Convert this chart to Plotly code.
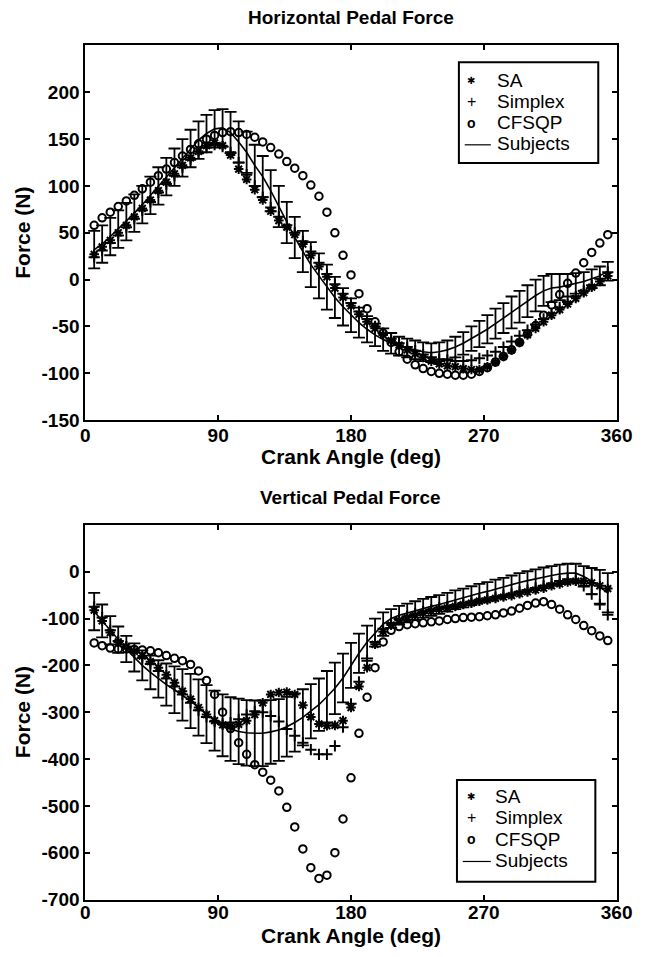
import plotly.graph_objects as go

# ---------------- data ----------------
angles = [6, 11.4, 16.9, 22.3, 27.8, 33.2, 38.6, 44.1, 49.5, 54.9, 60.4, 65.8, 71.3, 76.7, 82.1,
          87.6, 93, 98.4, 103.9, 109.3, 114.8, 120.2, 125.6, 131.1, 136.5, 141.9, 147.4, 152.8,
          158.3, 163.7, 169.1, 174.6, 180, 185.4, 190.9, 196.3, 201.8, 207.2, 212.6, 218.1, 223.5,
          228.9, 234.4, 239.8, 245.3, 250.7, 256.1, 261.6, 267, 272.4, 277.9, 283.3, 288.8, 294.2,
          299.6, 305.1, 310.5, 315.9, 321.4, 326.8, 332.3, 337.7, 343.1, 348.6, 354]

# Horizontal pedal force (N)
h_subjects = [32, 38, 46, 54, 62, 71, 80, 90, 100, 110, 120, 130, 140, 149, 156, 161, 162, 157, 147, 136,
              122, 110, 95, 78, 61, 45, 30, 16, 4, -8, -19, -29, -38, -46, -53, -59, -64, -68, -71, -73,
              -75, -77, -78, -77, -75, -72, -68, -63, -58, -53, -47, -41, -35, -29, -23, -17, -12, -9,
              -8, -6, -4, -2, 1, 4, 9]
h_sd = [20, 20, 20, 20, 20, 20, 20, 20, 20, 20, 20, 20, 20, 20, 20, 20, 20, 22, 22, 22, 22, 22, 22, 22,
        22, 22, 22, 24, 24, 24, 22, 20, 18, 16, 14, 12, 12, 11, 10, 10, 10, 10, 10, 10, 10, 11, 12, 13,
        14, 15, 16, 16, 17, 17, 17, 17, 16, 15, 14, 12, 11, 10, 10, 10, 10]
h_sa = [27, 35, 42, 50, 58, 67, 76, 85, 95, 104, 113, 122, 130, 137, 143, 146, 143, 133, 118, 107,
        96, 85, 73, 63, 56, 48, 38, 26, 14, 3, -9, -19, -28, -37, -45, -52, -59, -65, -70, -75,
        -79, -83, -87, -90, -92, -93, -95, -96, -96, -93, -88, -82, -75, -67, -59, -52, -45, -38,
        -32, -26, -20, -14, -8, -2, 4]
h_simplex = [24, 31, 39, 47, 56, 65, 74, 83, 93, 102, 111, 120, 128, 135, 141, 144, 142, 136, 125, 112,
             100, 88, 77, 67, 58, 50, 41, 30, 18, 6, -5, -15, -25, -34, -42, -50, -57, -63, -68, -72,
             -76, -80, -83, -85, -86, -87, -87, -86, -84, -81, -77, -72, -66, -60, -54, -48, -42, -36,
             -30, -24, -18, -12, -6, 1, 8]
h_cfsqp = [58, 66, 72, 78, 84, 90, 97, 104, 111, 118, 125, 132, 139, 145, 150, 154, 157, 158, 157, 155,
           152, 147, 141, 134, 126, 119, 111, 101, 89, 72, 50, 26, 5, -15, -31, -45, -57, -67, -77, -85,
           -91, -95, -98, -100, -101, -102, -102, -101, -98, -94, -88, -82, -75, -67, -58, -49, -38, -27,
           -16, -4, 7, 18, 29, 39, 48]

# Vertical pedal force (N)
v_subjects = [-85, -105, -125, -145, -165, -183, -200, -215, -229, -241, -252, -263, -276, -290, -304,
              -318, -328, -336, -341, -344, -345, -345, -342, -338, -331, -322, -311, -298, -284, -267,
              -249, -227, -200, -174, -150, -130, -112, -100, -93, -88, -83, -78, -74, -70, -65, -60,
              -56, -51, -46, -42, -37, -33, -28, -23, -19, -15, -11, -8, -5, -3, -3, -10, -20, -32, -45]
v_sd = [40, 35, 30, 28, 28, 30, 32, 36, 40, 45, 50, 55, 58, 60, 62, 64, 66, 68, 70, 70, 70, 70, 68, 66,
        64, 62, 60, 58, 56, 55, 55, 52, 48, 42, 35, 30, 25, 20, 20, 20, 20, 20, 20, 20, 20, 20, 20, 20,
        20, 20, 20, 20, 20, 20, 20, 20, 20, 20, 20, 20, 20, 22, 28, 36, 42]
v_sa = [-82, -105, -130, -150, -160, -170, -180, -192, -205, -220, -237, -255, -272, -290, -305, -318,
        -327, -330, -326, -318, -305, -280, -262, -258, -257, -262, -285, -310, -325, -329, -328, -318,
        -290, -245, -205, -155, -128, -114, -104, -98, -93, -88, -84, -80, -77, -74, -70, -67, -63, -60,
        -57, -54, -51, -47, -43, -39, -35, -30, -26, -22, -20, -20, -24, -30, -36]
v_simplex = [-75, -98, -125, -148, -160, -172, -184, -197, -212, -228, -245, -262, -280, -296, -310,
             -320, -325, -322, -315, -305, -298, -300, -308, -320, -336, -350, -365, -380, -390, -390,
             -372, -332, -282, -235, -190, -150, -122, -110, -101, -95, -90, -85, -81, -77, -74, -71,
             -67, -64, -60, -57, -54, -50, -47, -43, -39, -35, -30, -25, -20, -16, -18, -30, -48, -70, -92]
v_cfsqp = [-152, -158, -163, -165, -165, -166, -167, -169, -173, -179, -185, -190, -198, -212, -232, -262,
           -300, -335, -365, -390, -412, -428, -445, -468, -503, -545, -592, -632, -655, -648, -600, -528,
           -440, -345, -268, -205, -150, -125, -117, -113, -111, -109, -107, -105, -102, -100, -98, -97,
           -96, -94, -92, -88, -84, -78, -72, -67, -64, -70, -80, -92, -102, -115, -126, -137, -147]

x_ticks = [0, 90, 180, 270, 360]
x_ticktext = ["0", "90", "180", "270", "360"]
h_ticks = [-150, -100, -50, 0, 50, 100, 150, 200]
h_ticktext = ["-150", "-100", "-50", "0", "50", "100", "150", "200"]
v_ticks = [-700, -600, -500, -400, -300, -200, -100, 0]
v_ticktext = ["-700", "-600", "-500", "-400", "-300", "-200", "-100", "0"]

legend_labels = ["SA", "Simplex", "CFSQP", "Subjects"]
legend_glyphs = ["\u2731", "+", "o"]

# ---------------- figure ----------------
W, H = 652, 957
FONT = "Liberation Sans"
fig = go.Figure()


def add_panel(xa, ya, sa, simplex, cfsqp, subj, sd):
    fig.add_trace(go.Scatter(x=angles, y=subj, mode="lines", name=legend_labels[3],
                             line=dict(color="black", width=1.6),
                             error_y=dict(type="data", array=sd, visible=True, color="black",
                                          thickness=1.8, width=6),
                             xaxis=xa, yaxis=ya, showlegend=False))
    fig.add_trace(go.Scatter(x=angles, y=sa, mode="markers", name=legend_labels[0],
                             marker=dict(symbol="asterisk-open", size=8, color="black",
                                         line=dict(color="black", width=2)),
                             xaxis=xa, yaxis=ya, showlegend=False))
    fig.add_trace(go.Scatter(x=angles, y=simplex, mode="markers", name=legend_labels[1],
                             marker=dict(symbol="cross-thin-open", size=8, color="black",
                                         line=dict(color="black", width=2)),
                             xaxis=xa, yaxis=ya, showlegend=False))
    fig.add_trace(go.Scatter(x=angles, y=cfsqp, mode="markers", name=legend_labels[2],
                             marker=dict(symbol="circle-open", size=7.5, color="black",
                                         line=dict(color="black", width=2)),
                             xaxis=xa, yaxis=ya, showlegend=False))


add_panel("x", "y", h_sa, h_simplex, h_cfsqp, h_subjects, h_sd)
add_panel("x2", "y2", v_sa, v_simplex, v_cfsqp, v_subjects, v_sd)


def px(x):
    return x / W


def py(y):
    return 1 - y / H


x_dom = [px(83), px(632)]
top_dom = [py(425), py(46)]
bot_dom = [py(910), py(531)]

tickfont = dict(family=FONT, size=19, color="black", weight="bold")
axis_common = dict(showline=True, linecolor="black", linewidth=2, mirror="allticks",
                   ticks="inside", ticklen=5, tickwidth=1.5, tickcolor="black",
                   showgrid=False, zeroline=False, tickfont=tickfont)

fig.update_layout(
    width=W, height=H, autosize=False,
    margin=dict(l=0, r=0, t=0, b=0),
    paper_bgcolor="white", plot_bgcolor="white",
    font=dict(family=FONT, color="black"),
    showlegend=False,
    xaxis=dict(domain=x_dom, range=[0, 360], tickvals=x_ticks, ticktext=x_ticktext,
               anchor="y", ticklabelstandoff=-3, **axis_common),
    yaxis=dict(domain=top_dom, range=[-150, 250], tickvals=h_ticks, ticktext=h_ticktext,
               anchor="x", **axis_common),
    xaxis2=dict(domain=x_dom, range=[0, 360], tickvals=x_ticks, ticktext=x_ticktext,
                anchor="y2", ticklabelstandoff=-5, **axis_common),
    yaxis2=dict(domain=bot_dom, range=[-700, 100], tickvals=v_ticks, ticktext=v_ticktext,
                anchor="x2", **axis_common),
)

title_font = dict(family=FONT, size=19, color="black")
axis_font = dict(family=FONT, size=21, color="black")
annotations = [
    dict(text="<b>Horizontal Pedal Force</b>", x=px(357), y=py(18), font=title_font),
    dict(text="<b>Vertical Pedal Force</b>", x=px(357), y=py(503), font=title_font),
    dict(text="<b>Crank Angle (deg)</b>", x=px(358), y=py(462), font=axis_font),
    dict(text="<b>Crank Angle (deg)</b>", x=px(358), y=py(946), font=axis_font),
    dict(text="<b>Force (N)</b>", x=px(18), y=py(235), font=axis_font, textangle=-90),
    dict(text="<b>Force (N)</b>", x=px(18), y=py(720), font=axis_font, textangle=-90),
]

shapes = []
# legend boxes (top panel, bottom panel): left, top, right, bottom, symbol x, text x, row centres, line x
legend_boxes = [
    dict(box=(469, 63, 613, 165), sym_x=482, text_x=507, rows=(81, 102.5, 124, 145.5),
         line=(475, 502)),
    dict(box=(467, 789, 610, 892), sym_x=482, text_x=505, rows=(806, 827.5, 849, 870.5),
         line=(473, 502)),
]
glyph_fonts = [dict(family="DejaVu Sans", size=10, color="black"),
               dict(family=FONT, size=16, color="black"),
               dict(family=FONT, size=14, color="black", weight="bold")]
label_font = dict(family=FONT, size=19, color="black")
for lg in legend_boxes:
    x0, y0, x1, y1 = lg["box"]
    shapes.append(dict(type="rect", xref="paper", yref="paper", x0=px(x0), x1=px(x1),
                       y0=py(y1), y1=py(y0), line=dict(color="black", width=2),
                       fillcolor="white", layer="above"))
    for i, lab in enumerate(legend_labels):
        annotations.append(dict(text=lab, x=px(lg["text_x"]), y=py(lg["rows"][i]), font=label_font,
                                xanchor="left"))
    for i, g in enumerate(legend_glyphs):
        annotations.append(dict(text=g, x=px(lg["sym_x"]), y=py(lg["rows"][i]), font=glyph_fonts[i]))
    shapes.append(dict(type="line", xref="paper", yref="paper", x0=px(lg["line"][0]),
                       x1=px(lg["line"][1]), y0=py(lg["rows"][3] + 1), y1=py(lg["rows"][3] + 1),
                       line=dict(color="black", width=1.2), layer="above"))

for a in annotations:
    a.setdefault("xanchor", "center")
    a.update(xref="paper", yref="paper", showarrow=False, yanchor="middle", borderpad=0)
fig.update_layout(annotations=annotations, shapes=shapes)

fig.write_html("out.html", config={"displayModeBar": False},
               post_script="document.body.style.margin='0';document.body.style.overflow='hidden';")
